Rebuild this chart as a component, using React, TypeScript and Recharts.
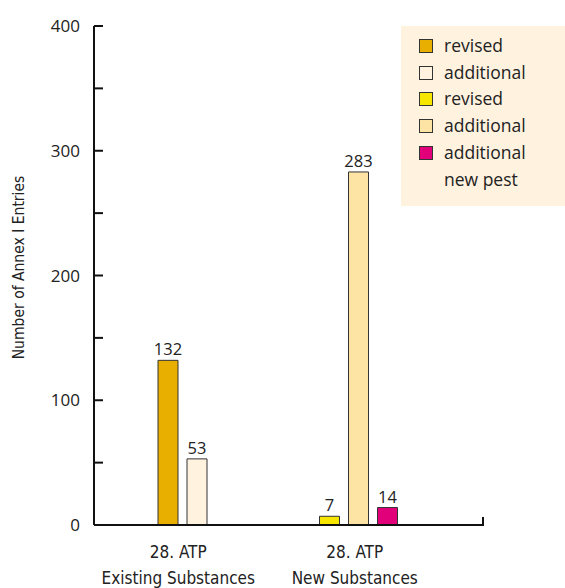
import React from "react";
import { BarChart, Bar, XAxis, YAxis, Legend, LabelList, usePlotArea } from "recharts";

const categories = ["28. ATP|Existing Substances", "28. ATP|New Substances"];
const existingRevised = [132, null];
const existingAdditional = [53, null];
const newRevised = [null, 7];
const newAdditional = [null, 283];
const newPest = [null, 14];
const yTicks = [0, 50, 100, 150, 200, 250, 300, 350, 400];

const seriesNames = ["revised", "additional", "revised", "additional", "additional new pest"];
const seriesColors = ["#e8ae00", "#fff2df", "#f7e600", "#fde4a5", "#e2007a"];

const data = categories.map((c, i) => ({
  cat: c,
  er: existingRevised[i],
  ea: existingAdditional[i],
  nr: newRevised[i],
  na: newAdditional[i],
  np: newPest[i],
}));

const humanist = "'Open Sans', 'Noto Sans', sans-serif";
const narrow = "'Liberation Sans Narrow', 'DejaVu Sans Condensed', 'Roboto Condensed', Roboto, sans-serif";

function YTick(props: any) {
  const { x, y, payload } = props;
  const v = payload.value;
  return (
    <g>
      <line x1={x + 14} x2={x + 23} y1={y} y2={y} stroke="#111" strokeWidth={2} />
      {v % 100 === 0 && (
        <text x={x} y={y} dy="0.36em" textAnchor="end" fontSize={17} fill="#222" fontFamily={humanist}>
          {v}
        </text>
      )}
    </g>
  );
}

function XTick(props: any) {
  const { x, y, payload } = props;
  const [l1, l2] = String(payload.value).split("|");
  return (
    <g fontFamily={narrow} fontSize={17} fill="#222" textAnchor="middle">
      <text x={x - 4} y={y + 31}>{l1}</text>
      <text x={x - 4} y={y + 57}>{l2}</text>
    </g>
  );
}

function EndTick() {
  const area = usePlotArea();
  if (!area) return null;
  const x = area.x + area.width;
  const y = area.y + area.height;
  return <line x1={x} x2={x} y1={y + 1} y2={y - 8} stroke="#111" strokeWidth={2} />;
}

function LegendBox() {
  return (
    <div
      style={{
        background: "#fff2df",
        width: 164,
        padding: "6px 0 14px 18px",
        boxSizing: "border-box",
        fontFamily: humanist,
        fontSize: 17.5,
        color: "#222",
      }}
    >
      {seriesNames.map((n, i) => (
        <div key={i} style={{ display: "flex", alignItems: "flex-start", lineHeight: "26.7px" }}>
          <span
            style={{
              display: "inline-block",
              width: 12,
              height: 12,
              marginTop: 7,
              marginRight: 11,
              background: seriesColors[i],
              border: "1px solid #333",
              flexShrink: 0,
            }}
          />
          <span style={{ width: 100 }}>{n}</span>
        </div>
      ))}
    </div>
  );
}

const valueLabel = { position: "top" as const, fill: "#222", fontSize: 16.5, fontFamily: humanist, offset: 5 };

export default function App() {
  return (
    <div style={{ position: "absolute", left: 0, top: 0 }}>
      <BarChart
        width={565}
        height={588}
        data={data}
        margin={{ top: 26, right: 82, bottom: 0, left: 0 }}
        barSize={20}
        barGap={9}
      >
        <XAxis
          xAxisId="a"
          dataKey="cat"
          height={63}
          padding={{ left: 0, right: 36 }}
          axisLine={{ stroke: "#111", strokeWidth: 2 }}
          tickLine={false}
          tickSize={0}
          tick={<XTick />}
          interval={0}
        />
        <XAxis xAxisId="b" dataKey="cat" hide padding={{ left: 0, right: 36 }} />
        <YAxis
          width={94}
          domain={[0, 400]}
          ticks={yTicks}
          interval={0}
          tickSize={0}
          tickMargin={14}
          tickLine={false}
          axisLine={{ stroke: "#111", strokeWidth: 2 }}
          tick={<YTick />}
          label={{
            value: "Number of Annex I Entries",
            angle: -90,
            position: "insideLeft",
            offset: 0,
            dx: 18,
            dy: -8,
            style: { textAnchor: "middle", fontFamily: narrow, fontSize: 15.5, fill: "#222" },
          }}
        />
        <Legend
          layout="horizontal"
          verticalAlign="middle"
          align="center"
          content={<LegendBox />}
          wrapperStyle={{ top: 26, left: 401, width: 164 }}
        />
        <Bar xAxisId="a" dataKey="er" name="revised" fill={seriesColors[0]} stroke="#333" isAnimationActive={false}>
          <LabelList dataKey="er" {...valueLabel} />
        </Bar>
        <Bar xAxisId="a" dataKey="ea" name="additional" fill={seriesColors[1]} stroke="#333" isAnimationActive={false}>
          <LabelList dataKey="ea" {...valueLabel} />
        </Bar>
        <Bar xAxisId="b" dataKey="nr" name="revised" fill={seriesColors[2]} stroke="#333" isAnimationActive={false}>
          <LabelList dataKey="nr" {...valueLabel} />
        </Bar>
        <Bar xAxisId="b" dataKey="na" name="additional" fill={seriesColors[3]} stroke="#333" isAnimationActive={false}>
          <LabelList dataKey="na" {...valueLabel} />
        </Bar>
        <Bar xAxisId="b" dataKey="np" name="additional new pest" fill={seriesColors[4]} stroke="#333" isAnimationActive={false}>
          <LabelList dataKey="np" {...valueLabel} />
        </Bar>
        <EndTick />
      </BarChart>
    </div>
  );
}
